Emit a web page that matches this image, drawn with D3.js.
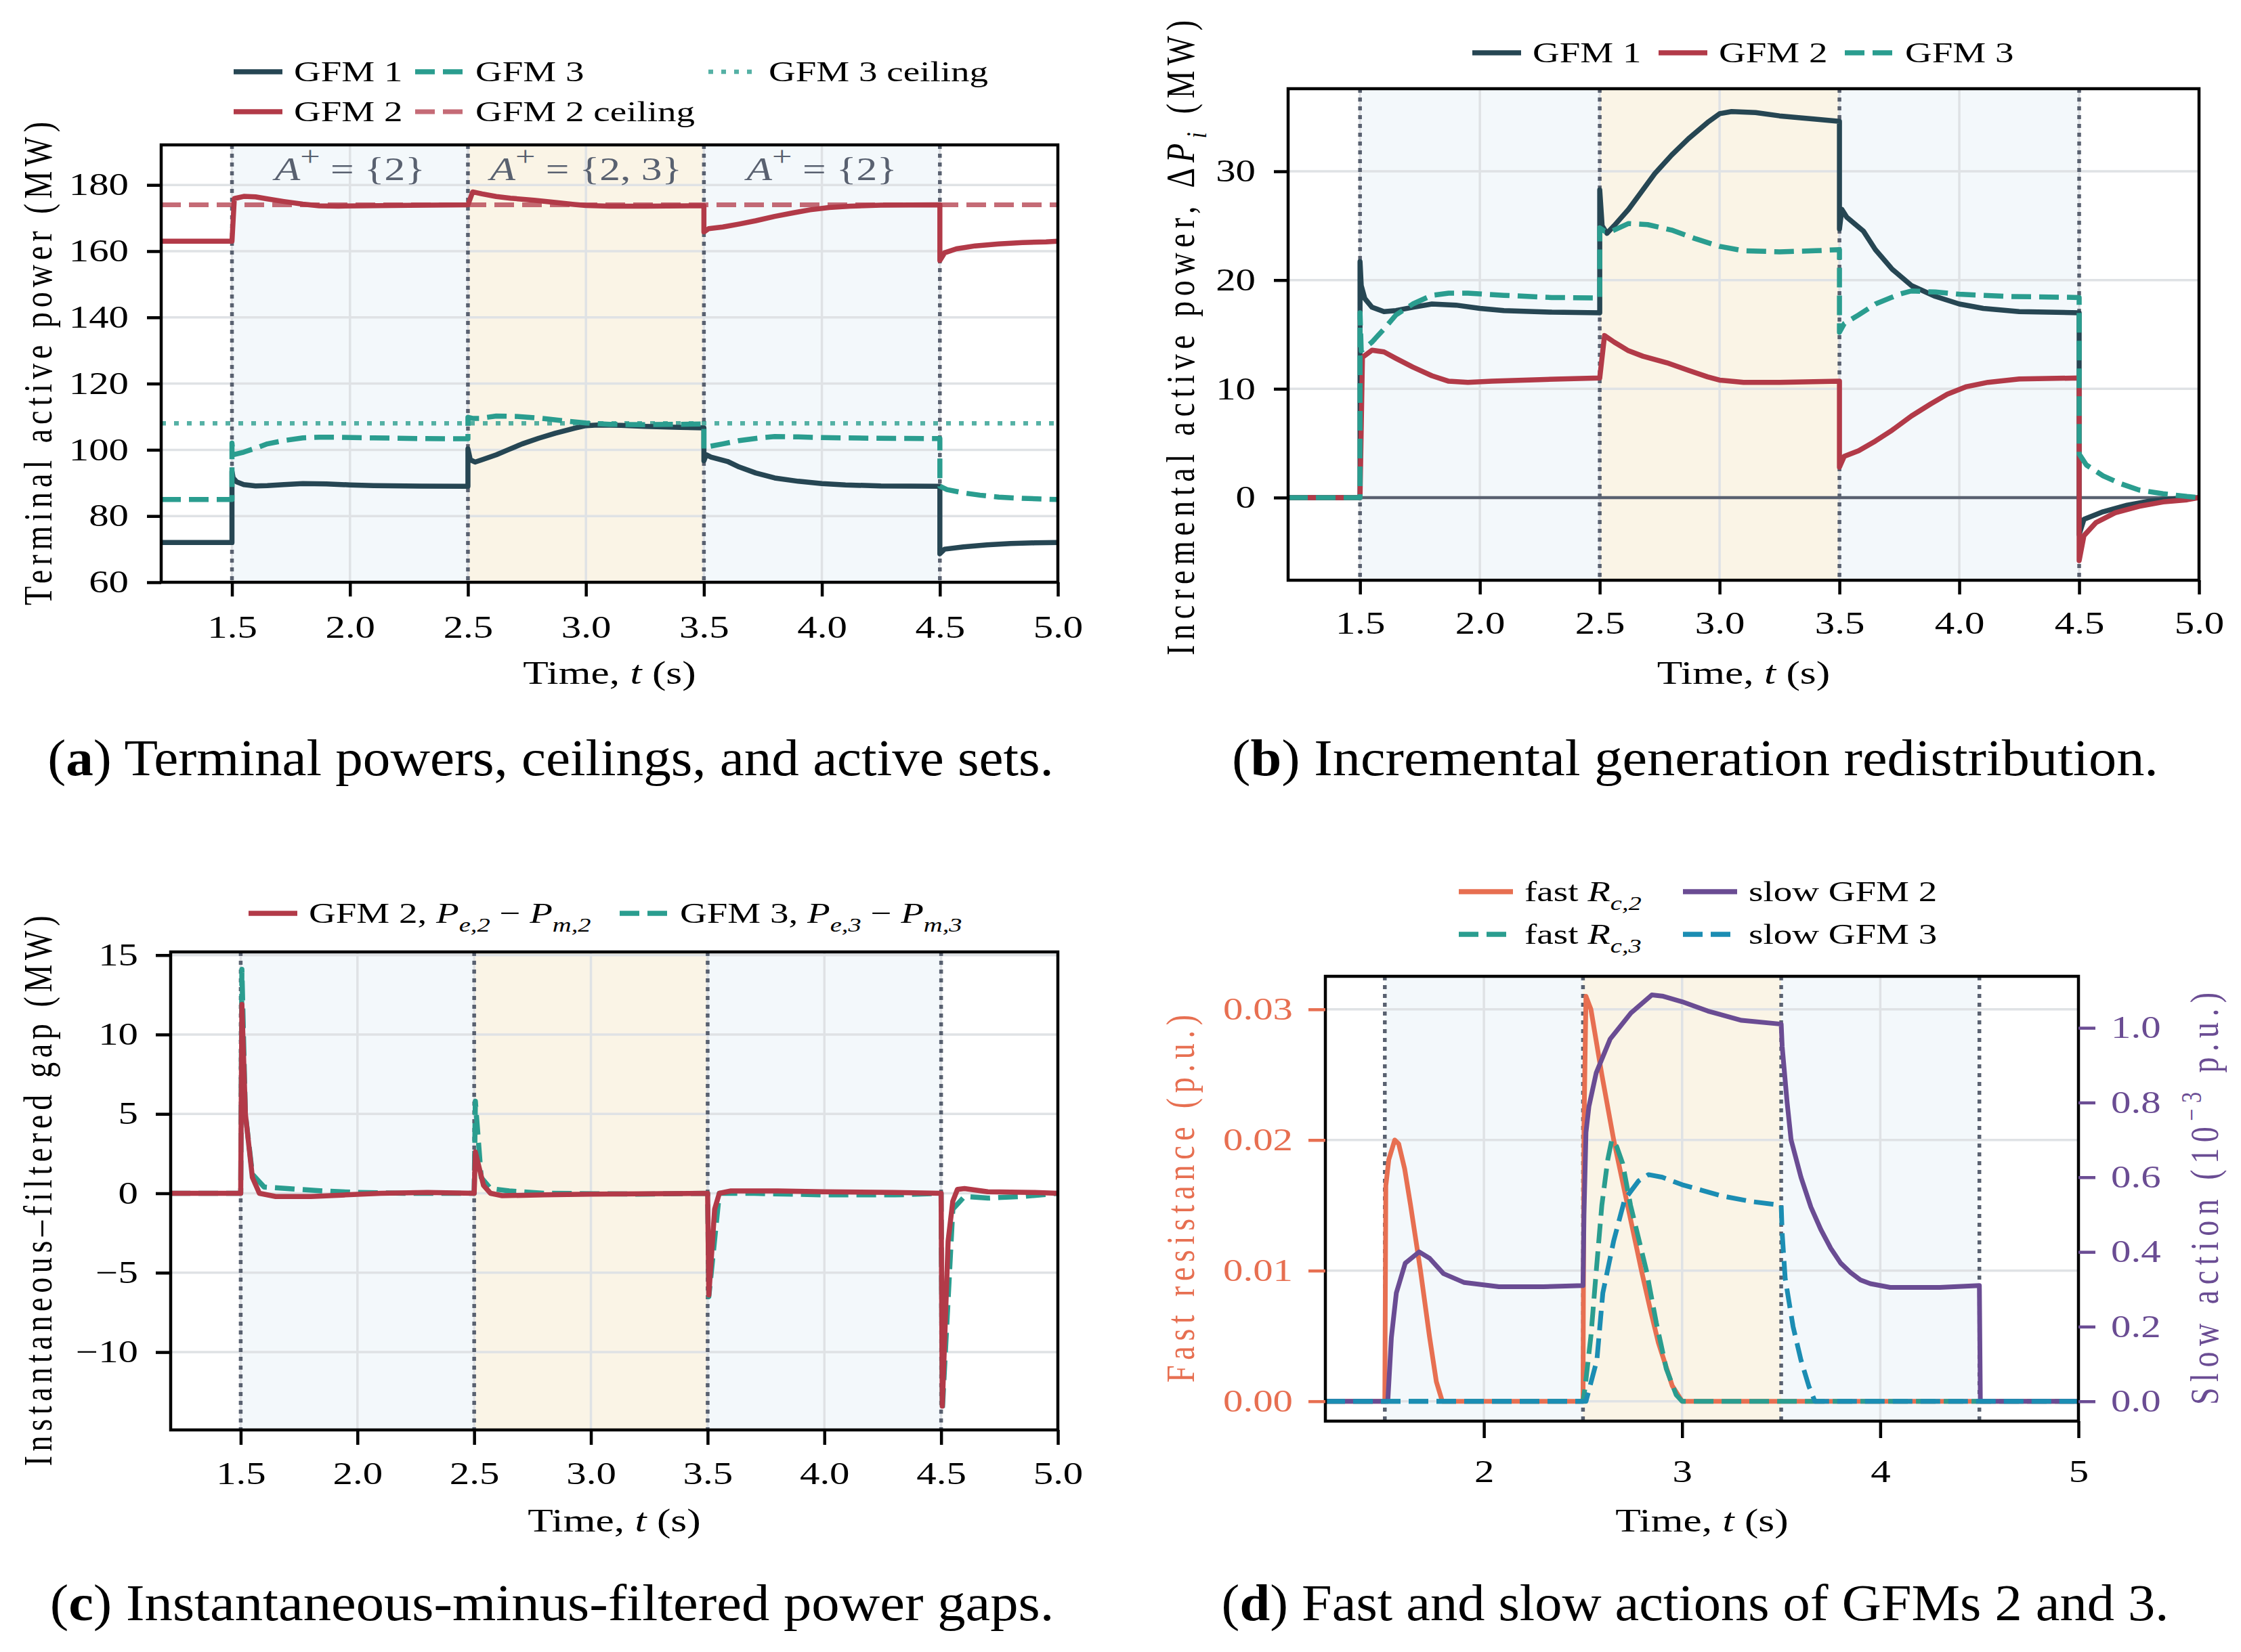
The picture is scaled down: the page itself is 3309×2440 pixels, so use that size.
<!DOCTYPE html>
<html>
<head>
<meta charset="utf-8">
<script src="https://cdn.jsdelivr.net/npm/d3@7"></script>
<style>body{margin:0;background:#fff;}</style>
</head>
<body>
<svg id="fig"></svg>
<script>
// ---------- values ----------
const eventTimes = [1.5, 2.5, 3.5, 4.5];
const phaseSpans = [[1.5, 2.5], [2.5, 3.5], [3.5, 4.5]];
const phaseKinds = ['single', 'both', 'single'];
const activeSetTimes = [2.0, 3.0, 4.0];
const activeSetLabels = ['{2}', '{2, 3}', '{2}'];

const timeTicks = [1.5, 2.0, 2.5, 3.0, 3.5, 4.0, 4.5, 5.0];
const timeTicksD = [2, 3, 4, 5];
const powerTicks = [60, 80, 100, 120, 140, 160, 180];
const deltaTicks = [0, 10, 20, 30];
const gapTicks = [-10, -5, 0, 5, 10, 15];
const fastTicks = [0, 0.01, 0.02, 0.03];
const slowTicks = [0, 0.2, 0.4, 0.6, 0.8, 1.0];

const ceilingGFM2 = 174;
const ceilingGFM3 = 108;

// (a) terminal active power, MW  [t, P]
const gfm1P = [[1.2,72],[1.5,72],[1.5,93.5],[1.505,91.5],[1.52,90.3],[1.55,89.5],[1.6,89.1],[1.65,89.2],[1.72,89.5],[1.8,89.8],[1.9,89.7],[2.0,89.4],[2.1,89.2],[2.3,89.05],[2.5,89.0],[2.5,100.3],[2.51,97],[2.53,96.3],[2.56,97],[2.62,98.5],[2.67,100],[2.73,101.8],[2.8,103.5],[2.87,105],[2.95,106.5],[3.0,107.3],[3.05,107.5],[3.15,107.4],[3.25,107.1],[3.4,106.8],[3.5,106.6],[3.5,96.7],[3.51,98.5],[3.53,97.8],[3.6,96.5],[3.65,94.8],[3.72,93],[3.8,91.5],[3.9,90.5],[4.0,89.8],[4.1,89.4],[4.25,89.1],[4.5,89.0],[4.5,68.6],[4.52,70],[4.6,70.7],[4.7,71.3],[4.8,71.7],[4.9,71.9],[5.0,72]];
const gfm2P = [[1.2,163],[1.5,163],[1.51,175.9],[1.55,176.55],[1.6,176.4],[1.65,175.8],[1.72,175],[1.8,174.2],[1.87,173.7],[1.95,173.6],[2.05,173.7],[2.25,173.85],[2.5,174],[2.52,177.9],[2.56,177.3],[2.62,176.5],[2.68,176],[2.78,175.4],[2.87,174.7],[2.95,174.1],[3.0,173.8],[3.1,173.6],[3.25,173.6],[3.5,173.7],[3.5,165.8],[3.52,166.8],[3.58,167.3],[3.65,168.2],[3.72,169.2],[3.8,170.5],[3.88,171.6],[3.95,172.5],[4.03,173.2],[4.12,173.6],[4.25,173.9],[4.5,174],[4.5,157.2],[4.52,159.5],[4.57,160.7],[4.65,161.6],[4.75,162.2],[4.85,162.6],[4.95,162.8],[5.0,163]];
const gfm3P = [[1.2,85],[1.5,85],[1.5,102],[1.505,98.5],[1.55,99.3],[1.6,100.5],[1.65,101.8],[1.72,102.8],[1.8,103.6],[1.87,103.8],[1.95,103.8],[2.1,103.6],[2.3,103.4],[2.5,103.35],[2.5,109.8],[2.52,109.5],[2.55,109.5],[2.62,110.2],[2.7,110.1],[2.8,109.6],[2.9,108.8],[3.0,108.1],[3.1,107.7],[3.25,107.6],[3.4,107.7],[3.5,107.8],[3.5,100.2],[3.52,101],[3.58,101.8],[3.65,102.8],[3.75,103.7],[3.8,104],[3.9,103.9],[4.0,103.7],[4.2,103.5],[4.5,103.4],[4.5,89],[4.53,88],[4.6,87],[4.67,86.3],[4.75,85.7],[4.85,85.35],[4.95,85.1],[5.0,85]];

// (b) incremental active power, MW
const gfm1D = [[1.2,0],[1.5,0],[1.5,21.7],[1.505,19.5],[1.52,18.3],[1.55,17.5],[1.6,17.1],[1.65,17.2],[1.72,17.5],[1.8,17.8],[1.9,17.7],[2.0,17.4],[2.1,17.2],[2.3,17.05],[2.5,17.0],[2.5,28.3],[2.51,25],[2.53,24.3],[2.56,25],[2.62,26.5],[2.67,28],[2.73,29.8],[2.8,31.5],[2.87,33],[2.95,34.5],[3.0,35.3],[3.05,35.5],[3.15,35.4],[3.25,35.1],[3.4,34.8],[3.5,34.6],[3.5,24.7],[3.51,26.5],[3.53,25.8],[3.6,24.5],[3.65,22.8],[3.72,21],[3.8,19.5],[3.9,18.5],[4.0,17.8],[4.1,17.4],[4.25,17.1],[4.5,17.0],[4.5,-3.4],[4.52,-2],[4.6,-1.3],[4.7,-0.7],[4.8,-0.3],[4.9,-0.1],[5.0,0]];
const gfm2D = [[1.2,0],[1.5,0],[1.51,12.9],[1.55,13.55],[1.6,13.4],[1.65,12.8],[1.72,12],[1.8,11.2],[1.87,10.7],[1.95,10.6],[2.05,10.7],[2.25,10.85],[2.5,11.0],[2.52,14.9],[2.56,14.3],[2.62,13.5],[2.68,13],[2.78,12.4],[2.87,11.7],[2.95,11.1],[3.0,10.8],[3.1,10.6],[3.25,10.6],[3.5,10.7],[3.5,2.8],[3.52,3.8],[3.58,4.3],[3.65,5.2],[3.72,6.2],[3.8,7.5],[3.88,8.6],[3.95,9.5],[4.03,10.2],[4.12,10.6],[4.25,10.9],[4.5,11.0],[4.5,-5.8],[4.52,-3.5],[4.57,-2.3],[4.65,-1.4],[4.75,-0.8],[4.85,-0.4],[4.95,-0.2],[5.0,0]];
const gfm3D = [[1.2,0],[1.5,0],[1.5,17],[1.505,13.5],[1.55,14.3],[1.6,15.5],[1.65,16.8],[1.72,17.8],[1.8,18.6],[1.87,18.8],[1.95,18.8],[2.1,18.6],[2.3,18.4],[2.5,18.35],[2.5,24.8],[2.52,24.5],[2.55,24.5],[2.62,25.2],[2.7,25.1],[2.8,24.6],[2.9,23.8],[3.0,23.1],[3.1,22.7],[3.25,22.6],[3.4,22.7],[3.5,22.8],[3.5,15.2],[3.52,16],[3.58,16.8],[3.65,17.8],[3.75,18.7],[3.8,19],[3.9,18.9],[4.0,18.7],[4.2,18.5],[4.5,18.4],[4.5,4],[4.53,3],[4.6,2],[4.67,1.3],[4.75,0.7],[4.85,0.35],[4.95,0.1],[5.0,0]];

// (c) instantaneous minus filtered gap, MW
const gap2 = [[1.2,0],[1.5,0],[1.505,11.9],[1.52,5],[1.55,1],[1.58,0],[1.65,-0.2],[1.8,-0.2],[1.95,-0.1],[2.1,0],[2.3,0.05],[2.5,0],[2.505,2.6],[2.54,0.5],[2.57,0],[2.62,-0.15],[2.8,-0.1],[3.0,-0.05],[3.5,0],[3.505,-6.4],[3.53,-1],[3.55,0],[3.6,0.15],[3.8,0.15],[4.0,0.1],[4.3,0.05],[4.5,0],[4.505,-13.4],[4.53,-3],[4.55,-0.5],[4.57,0.25],[4.6,0.3],[4.7,0.1],[4.9,0.05],[5.0,0]];
const gap3 = [[1.2,0],[1.5,0],[1.505,14.1],[1.52,5],[1.55,1.2],[1.6,0.4],[1.7,0.3],[1.85,0.15],[2.0,0.05],[2.2,0],[2.5,0],[2.505,5.8],[2.53,1],[2.57,0.3],[2.65,0.15],[2.8,0],[3.2,-0.05],[3.5,0],[3.505,-6.5],[3.55,0],[3.7,0],[4.0,-0.1],[4.3,-0.1],[4.5,0],[4.505,-13.7],[4.55,-1],[4.6,-0.2],[4.7,-0.3],[4.85,-0.2],[5.0,0]];

// (d) fast resistance (p.u.) and slow action (1e-3 p.u.)
const fastR2 = [[1.2,0],[1.5,0],[1.505,0.0165],[1.52,0.0185],[1.55,0.0200],[1.57,0.0197],[1.6,0.0178],[1.63,0.0150],[1.68,0.0100],[1.725,0.0050],[1.76,0.0015],[1.79,0],[2.5,0],[2.505,0.021],[2.515,0.031],[2.54,0.0300],[2.595,0.0250],[2.655,0.0200],[2.725,0.0150],[2.795,0.0100],[2.84,0.0070],[2.88,0.0045],[2.95,0.0012],[3.0,0],[5.0,0]];
const fastR3 = [[1.2,0],[2.5,0],[2.51,0.001],[2.54,0.005],[2.567,0.010],[2.595,0.015],[2.625,0.0185],[2.645,0.0200],[2.67,0.0195],[2.7,0.0182],[2.74,0.015],[2.78,0.0125],[2.82,0.0100],[2.87,0.0060],[2.92,0.0025],[2.97,0.0005],[3.0,0],[5.0,0]];
const slow2 = [[1.2,0],[1.515,0],[1.533,0.17],[1.558,0.29],[1.603,0.37],[1.673,0.40],[1.726,0.383],[1.796,0.342],[1.901,0.318],[2.076,0.307],[2.3,0.307],[2.5,0.31],[2.505,0.5],[2.515,0.72],[2.53,0.79],[2.567,0.88],[2.637,0.97],[2.742,1.04],[2.847,1.088],[2.9,1.085],[3.0,1.07],[3.13,1.045],[3.3,1.02],[3.5,1.01],[3.505,0.95],[3.53,0.8],[3.55,0.7],[3.6,0.6],[3.65,0.52],[3.7,0.46],[3.75,0.41],[3.8,0.37],[3.85,0.345],[3.9,0.325],[3.95,0.315],[4.05,0.305],[4.3,0.305],[4.5,0.31],[4.505,0],[5.0,0]];
const slow3 = [[1.2,0],[2.515,0],[2.57,0.11],[2.6,0.29],[2.655,0.43],[2.71,0.54],[2.78,0.59],[2.83,0.607],[2.9,0.60],[3.0,0.58],[3.1,0.565],[3.2,0.55],[3.35,0.535],[3.5,0.525],[3.505,0.45],[3.52,0.33],[3.56,0.2],[3.6,0.11],[3.64,0.04],[3.67,0],[5.0,0]];

// ---------- styling ----------
const W = 3309, H = 2440;
const SX = 1.28;  // figure text is horizontally stretched in the reference
const FONT = '"Liberation Serif","DejaVu Serif",serif';
const FS = 46;
const LEG_FS = 43;
const C = {
    gfm1: '#264653', gfm2: '#b23a48', gfm3: '#2a9d8f',
    fast2: '#e76f51', slow2: '#6a4c93', slow3: '#1b8db3',
    event: '#596170', shadeA: '#f3f8fb', shadeB: '#faf4e6', grid: '#dfe2e5'
};
const DASH = '29,12', DOT = '7,12';
const LW = 7.5;

const svg = d3.select('#fig').attr('width', W).attr('height', H)
    .style('font-family', FONT);
svg.append('rect').attr('width', W).attr('height', H).attr('fill', '#fff');

// rich text: parts are strings or {t, it, sub, sup}
function rich(text, parts, size) {
    let shift = 0;
    parts.forEach(p => {
        if (typeof p === 'string') p = {t: p};
        const ts = text.append('tspan').text(p.t);
        if (p.it) ts.attr('font-style', 'italic');
        const target = p.sub ? size * 0.3 : (p.sup ? -size * (p.hi || 0.42) : 0);
        if (target !== shift) { ts.attr('dy', target - shift); shift = target; }
        if (p.sub || p.sup) ts.attr('font-size', size * (p.scale || 0.7));
    });
}

function label(parent, x, y, parts, opt) {
    opt = opt || {};
    const size = opt.size || FS;
    const g = parent.append('g')
        .attr('transform', `translate(${x},${y}) scale(${opt.sx || SX},1)` + (opt.rotate ? ` rotate(${opt.rotate})` : ''));
    const t = g.append('text')
        .attr('font-size', size)
        .attr('text-anchor', opt.anchor || 'start')
        .attr('fill', opt.color || '#000');
    rich(t, parts, size);
    if (opt.length) t.attr('textLength', opt.length).attr('lengthAdjust', 'spacing');
    return t;
}

class TracePanel {

    constructor(config) {
        this.config = config;
        this.init();
    }

    init() {
        let self = this, c = self.config;
        self.g = svg.append('g');
        self.xscale = d3.scaleLinear().domain(c.xdomain).range([c.left, c.right]);
        self.yscale = d3.scaleLinear().domain(c.ydomain).range([c.bottom, c.top]);
        self.y2scale = c.y2domain
            ? d3.scaleLinear().domain(c.y2domain).range([c.bottom, c.top]) : null;
        svg.append('clipPath').attr('id', 'clip-' + c.name)
            .append('rect')
            .attr('x', c.left).attr('y', c.top)
            .attr('width', c.right - c.left).attr('height', c.bottom - c.top);
    }

    render() {
        let self = this, c = self.config;
        const x = self.xscale, y = self.yscale;

        self.g.selectAll('rect.phase').data(phaseSpans).join('rect')
            .attr('class', 'phase')
            .attr('x', d => x(d[0])).attr('y', c.top)
            .attr('width', d => x(d[1]) - x(d[0]))
            .attr('height', c.bottom - c.top)
            .attr('fill', (d, i) => phaseKinds[i] === 'both' ? C.shadeB : C.shadeA);

        self.g.selectAll('line.gx').data(c.xticks).join('line')
            .attr('class', 'gx')
            .attr('x1', d => x(d)).attr('x2', d => x(d))
            .attr('y1', c.top).attr('y2', c.bottom)
            .attr('stroke', C.grid).attr('stroke-width', 3.5);
        self.g.selectAll('line.gy').data(c.yticks).join('line')
            .attr('class', 'gy')
            .attr('x1', c.left).attr('x2', c.right)
            .attr('y1', d => y(d)).attr('y2', d => y(d))
            .attr('stroke', C.grid).attr('stroke-width', 3.5);

        self.g.selectAll('line.ev').data(eventTimes).join('line')
            .attr('class', 'ev')
            .attr('x1', d => x(d)).attr('x2', d => x(d))
            .attr('y1', c.top).attr('y2', c.bottom)
            .attr('stroke', C.event).attr('stroke-width', 5.5)
            .attr('stroke-dasharray', '6,7');

        const plot = self.g.append('g').attr('clip-path', `url(#clip-${c.name})`);

        (c.refs || []).forEach(r => {
            plot.append('line')
                .attr('x1', c.left).attr('x2', c.right)
                .attr('y1', y(r.value)).attr('y2', y(r.value))
                .attr('stroke', r.color).attr('stroke-width', r.width || 6.5)
                .attr('stroke-opacity', r.opacity || 1)
                .attr('stroke-dasharray', r.dash || null);
        });

        c.series.forEach(s => {
            const ys = s.axis === 2 ? self.y2scale : y;
            const line = d3.line().x(d => x(d[0])).y(d => ys(d[1]));
            plot.append('path')
                .datum(s.data)
                .attr('d', line)
                .attr('fill', 'none')
                .attr('stroke', s.color)
                .attr('stroke-width', s.width || LW)
                .attr('stroke-linejoin', 'round')
                .attr('stroke-dasharray', s.dash || null);
        });

        (c.annotations || []).forEach(a => {
            label(self.g, x(a.t), a.y, a.parts, {anchor: 'middle', color: C.event, size: 48});
        });

        self.g.append('rect')
            .attr('x', c.left).attr('y', c.top)
            .attr('width', c.right - c.left).attr('height', c.bottom - c.top)
            .attr('fill', 'none').attr('stroke', '#000').attr('stroke-width', 4.5);

        // axes
        const styleAxis = (g, color) => {
            g.select('.domain').remove();
            g.attr('font-family', FONT).attr('font-size', FS);
            g.selectAll('line').attr('stroke', color).attr('stroke-width', 4.5);
            g.selectAll('text').attr('fill', color).attr('transform', `scale(${SX},1)`);
        };
        const xaxis = d3.axisBottom(x).tickValues(c.xticks).tickFormat(c.xfmt)
            .tickSize(c.tick).tickPadding(c.xpad);
        self.g.append('g').attr('transform', `translate(0,${c.bottom})`)
            .call(xaxis).call(g => styleAxis(g, '#000'));

        const ypad = 48 / SX - c.tick;
        const yaxis = d3.axisLeft(y).tickValues(c.yticks).tickFormat(c.yfmt)
            .tickSize(c.tick).tickPadding(ypad);
        self.g.append('g').attr('transform', `translate(${c.left},0)`)
            .call(yaxis).call(g => styleAxis(g, c.ycolor || '#000'));

        if (self.y2scale) {
            const y2axis = d3.axisRight(self.y2scale).tickValues(c.y2ticks).tickFormat(c.y2fmt)
                .tickSize(c.tick).tickPadding(ypad);
            self.g.append('g').attr('transform', `translate(${c.right},0)`)
                .call(y2axis).call(g => styleAxis(g, c.y2color));
        }

        // axis titles
        label(self.g, (c.left + c.right) / 2, c.xlabelY,
            ['Time, ', {t: 't', it: true}, ' (s)'], {anchor: 'middle', size: 48});
        const ymid = (c.top + c.bottom) / 2;
        label(self.g, c.ylabel.x + 20, c.ylabel.mid || ymid, c.ylabel.parts,
            {anchor: 'middle', rotate: -90, length: c.ylabel.length, color: c.ycolor || '#000'});
        if (c.ylabel2) {
            label(self.g, c.ylabel2.x + 20, ymid, c.ylabel2.parts,
                {anchor: 'middle', rotate: -90, length: c.ylabel2.length, color: c.y2color});
        }

        // legend
        c.legend.forEach(it => {
            self.g.append('line')
                .attr('x1', it.x).attr('x2', it.x + it.len)
                .attr('y1', it.y).attr('y2', it.y)
                .attr('stroke', it.color).attr('stroke-width', it.width || LW)
                .attr('stroke-opacity', it.opacity || 1)
                .attr('stroke-dasharray', it.dash || null);
            label(self.g, it.x + it.len + 17, it.y + 14, it.parts, {size: LEG_FS});
        });
    }
}

const panelA = new TracePanel({
    name: 'a', left: 238, right: 1562, top: 214, bottom: 860,
    xdomain: [1.2, 5.0], ydomain: [60, 192.1],
    xticks: timeTicks, yticks: powerTicks, xfmt: d3.format('.1f'), yfmt: d3.format('d'),
    tick: 21, xpad: 28, xlabelY: 1010,
    ylabel: {x: 56, length: 714, parts: ['Terminal active power (MW)']},
    refs: [
        {value: ceilingGFM2, color: C.gfm2, dash: DASH, opacity: 0.75, width: 7},
        {value: ceilingGFM3, color: C.gfm3, dash: DOT, opacity: 0.8, width: 6.5}
    ],
    series: [
        {data: gfm1P, color: C.gfm1},
        {data: gfm2P, color: C.gfm2},
        {data: gfm3P, color: C.gfm3, dash: DASH}
    ],
    annotations: activeSetTimes.map((t, i) => ({
        t: t, y: 266,
        parts: [{t: 'A', it: true}, {t: '+', sup: true, scale: 0.85, hi: 0.45}, ' = ' + activeSetLabels[i]]
    })),
    legend: [
        {x: 345, y: 106, len: 72, color: C.gfm1, parts: ['GFM 1']},
        {x: 345, y: 165, len: 72, color: C.gfm2, parts: ['GFM 2']},
        {x: 613, y: 106, len: 72, color: C.gfm3, dash: DASH, parts: ['GFM 3']},
        {x: 613, y: 165, len: 72, color: C.gfm2, dash: DASH, opacity: 0.75, width: 7, parts: ['GFM 2 ceiling']},
        {x: 1046, y: 106, len: 72, color: C.gfm3, dash: DOT, opacity: 0.8, width: 6.5, parts: ['GFM 3 ceiling']}
    ]
});
panelA.render();

const panelB = new TracePanel({
    name: 'b', left: 1902, right: 3247, top: 131, bottom: 857,
    xdomain: [1.2, 5.0], ydomain: [-7.6, 37.6],
    xticks: timeTicks, yticks: deltaTicks, xfmt: d3.format('.1f'), yfmt: d3.format('d'),
    tick: 21, xpad: 25, xlabelY: 1010,
    ylabel: {x: 1743, length: 938, mid: 499,
        parts: ['Incremental active power, \u0394', {t: 'P', it: true}, {t: 'i', it: true, sub: true}, ' (MW)']},
    refs: [{value: 0, color: C.event, width: 4.5}],
    series: [
        {data: gfm1D, color: C.gfm1},
        {data: gfm2D, color: C.gfm2},
        {data: gfm3D, color: C.gfm3, dash: DASH}
    ],
    legend: [
        {x: 2174, y: 78, len: 72, color: C.gfm1, parts: ['GFM 1']},
        {x: 2449, y: 78, len: 72, color: C.gfm2, parts: ['GFM 2']},
        {x: 2724, y: 78, len: 72, color: C.gfm3, dash: DASH, parts: ['GFM 3']}
    ]
});
panelB.render();

const panelC = new TracePanel({
    name: 'c', left: 252, right: 1562, top: 1406, bottom: 2112,
    xdomain: [1.2, 5.0], ydomain: [-14.9, 15.2],
    xticks: timeTicks, yticks: gapTicks, xfmt: d3.format('.1f'), yfmt: d3.format('d'),
    tick: 22, xpad: 25, xlabelY: 2262,
    ylabel: {x: 56, length: 813, parts: ['Instantaneous\u2013filtered gap (MW)']},
    series: [
        {data: gap3, color: C.gfm3, dash: DASH},
        {data: gap2, color: C.gfm2}
    ],
    legend: [
        {x: 367, y: 1349, len: 72, color: C.gfm2,
            parts: ['GFM 2, ', {t: 'P', it: true}, {t: 'e,2', it: true, sub: true}, ' \u2212 ', {t: 'P', it: true}, {t: 'm,2', it: true, sub: true}]},
        {x: 915, y: 1349, len: 72, color: C.gfm3, dash: DASH,
            parts: ['GFM 3, ', {t: 'P', it: true}, {t: 'e,3', it: true, sub: true}, ' \u2212 ', {t: 'P', it: true}, {t: 'm,3', it: true, sub: true}]}
    ]
});
panelC.render();

const panelD = new TracePanel({
    name: 'd', left: 1957, right: 3069, top: 1442, bottom: 2099,
    xdomain: [1.2, 5.0], ydomain: [-0.00152, 0.03253], y2domain: [-0.053, 1.138],
    xticks: timeTicksD, yticks: fastTicks, y2ticks: slowTicks,
    xfmt: d3.format('d'), yfmt: d3.format('.2f'), y2fmt: d3.format('.1f'),
    ycolor: C.fast2, y2color: C.slow2,
    tick: 25, xpad: 32, xlabelY: 2262,
    ylabel: {x: 1743, length: 543, parts: ['Fast resistance (p.u.)']},
    ylabel2: {x: 3255, length: 609, parts: ['Slow action (10', {t: '\u22123', sup: true}, ' p.u.)']},
    series: [
        {data: fastR2, color: C.fast2, width: 7},
        {data: fastR3, color: C.gfm3, dash: DASH, width: 7},
        {data: slow2, color: C.slow2, width: 7, axis: 2},
        {data: slow3, color: C.slow3, dash: DASH, width: 7, axis: 2}
    ],
    legend: [
        {x: 2154, y: 1317, len: 80, color: C.fast2, parts: ['fast ', {t: 'R', it: true}, {t: 'c,2', it: true, sub: true}]},
        {x: 2154, y: 1380, len: 80, color: C.gfm3, dash: DASH, parts: ['fast ', {t: 'R', it: true}, {t: 'c,3', it: true, sub: true}]},
        {x: 2485, y: 1317, len: 80, color: C.slow2, parts: ['slow GFM 2']},
        {x: 2485, y: 1380, len: 80, color: C.slow3, dash: DASH, parts: ['slow GFM 3']}
    ]
});
panelD.render();

// sub-figure captions (document text, Palatino-like)
function caption(cx, base, letter, rest, target) {
    const g = svg.append('g');
    const t = g.append('text').attr('font-size', 76).attr('text-anchor', 'middle')
        .attr('font-family', FONT);
    t.append('tspan').text('(');
    t.append('tspan').attr('font-weight', 'bold').text(letter);
    t.append('tspan').text(') ' + rest);
    const k = target / t.node().getComputedTextLength();
    g.attr('transform', `translate(${cx},${base}) scale(${k},1)`);
}
caption(813, 1145, 'a', 'Terminal powers, ceilings, and active sets.', 1486);
caption(2503, 1145, 'b', 'Incremental generation redistribution.', 1368);
caption(815, 2393, 'c', 'Instantaneous-minus-filtered power gaps.', 1483);
caption(2503, 2393, 'd', 'Fast and slow actions of GFMs 2 and 3.', 1399);
</script>
</body>
</html>
